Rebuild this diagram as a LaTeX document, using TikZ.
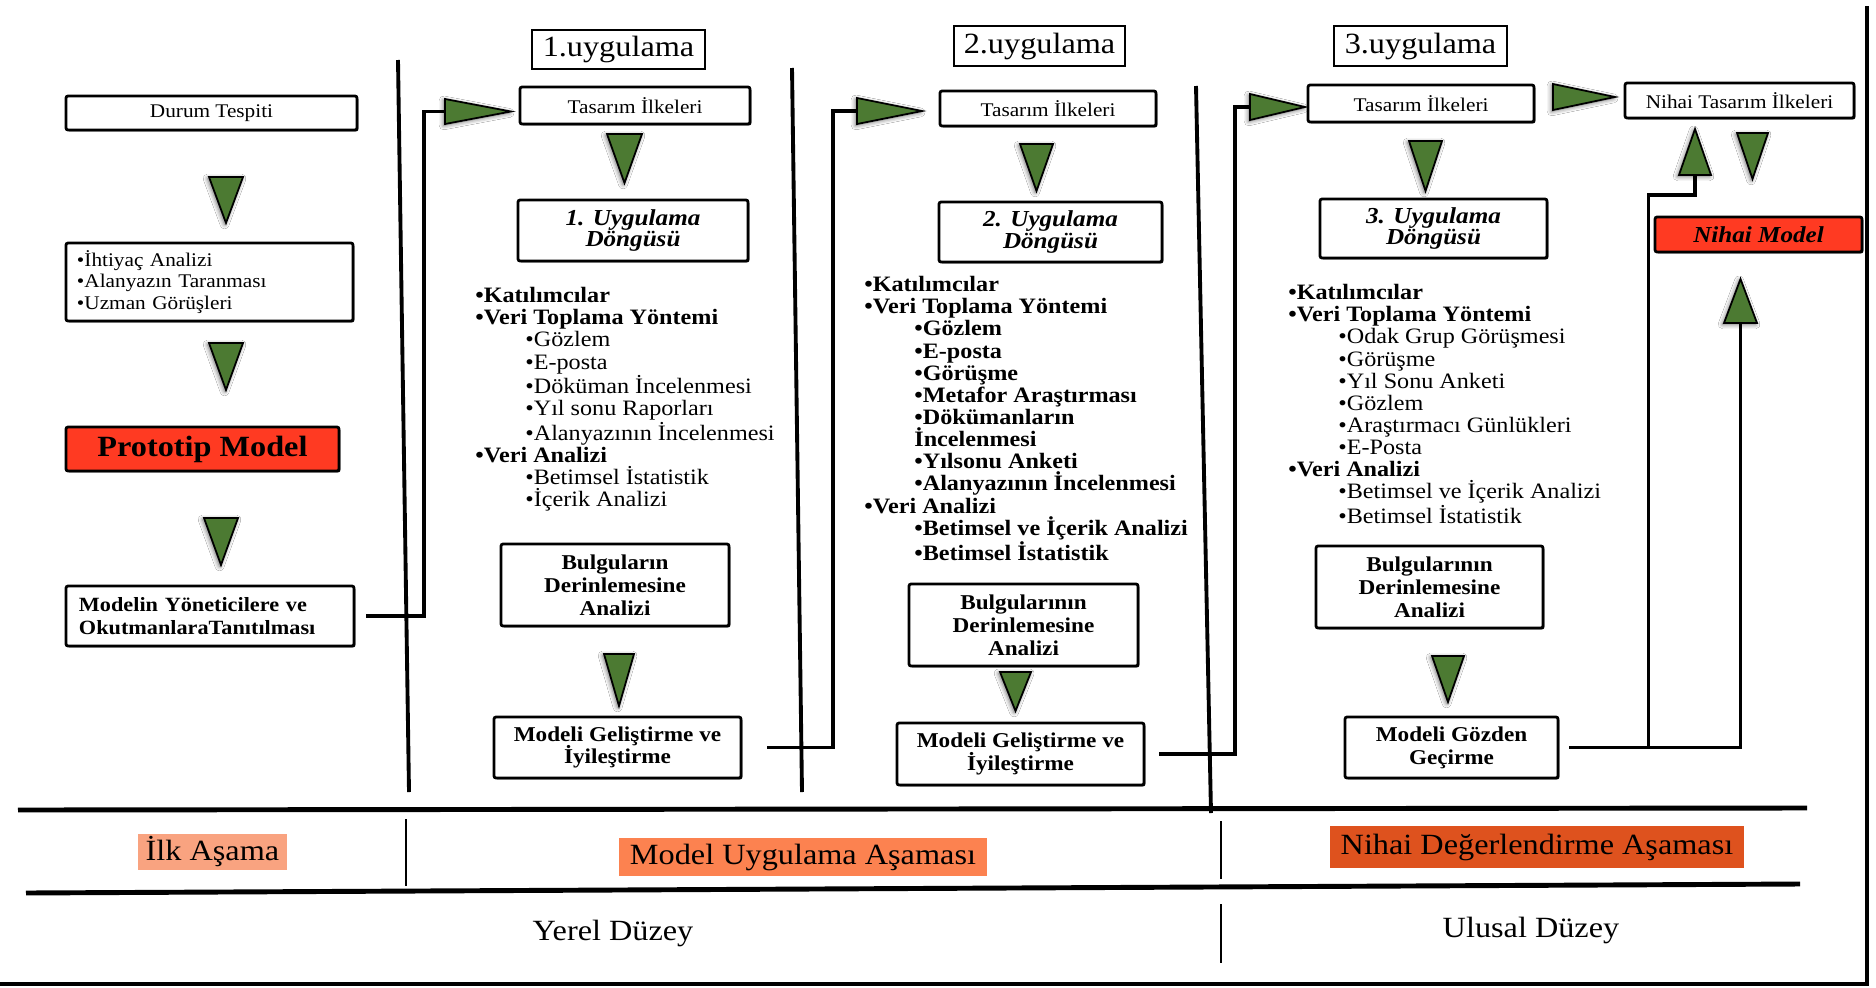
\documentclass[tikz,border=0pt]{standalone}
\usepackage{fontspec}
\setmainfont[FakeStretch=1.1]{Liberation Serif}
\usepackage{tikz}
\usetikzlibrary{positioning,shadows,shadows.blur}

\definecolor{trigreen}{RGB}{76,122,50}
\definecolor{protored}{RGB}{255,58,34}
\definecolor{ilkfill}{RGB}{249,163,128}
\definecolor{uygfill}{RGB}{252,130,80}
\definecolor{nihfill}{RGB}{222,82,30}

\newcommand{\girinti}{\hspace*{10mm}}

\tikzset{
    box/.style={draw, line width=1.6pt, fill=white, rounded corners=1.2pt, inner sep=1pt, align=center,
        drop shadow={shadow xshift=0.8pt, shadow yshift=-0.8pt, opacity=0.85, fill=black}},
    redbox/.style={box, fill=protored},
    header/.style={draw, line width=0.9pt, inner sep=0pt, font=\fontsize{16.7}{18}\selectfont},
    phase/.style={inner sep=0pt, font=\fontsize{16.7}{18}\selectfont},
    liste/.style={anchor=north west, align=left, inner sep=0pt, font=\fontsize{12.5}{12.6}\selectfont},
    smallfont/.style={font=\fontsize{11}{12}\selectfont},
    boldfont/.style={font=\fontsize{12}{13}\selectfont\bfseries},
    cyclefont/.style={font=\fontsize{13}{12.5}\selectfont\bfseries\itshape},
    trifill/.style={fill=trigreen, draw=black, line width=1pt, line join=miter,
        blur shadow={shadow xshift=-0.8pt, shadow yshift=-0.8pt, shadow blur radius=2.5pt, shadow opacity=60}},
    conn/.style={line width=1.8pt, line join=miter},
    divline/.style={line width=2.2pt},
    bandline/.style={line width=2.8pt},
    pics/arrowtri/.style 2 args={code={
        \path[trifill] (0,{-#2/2}) -- (#1,0) -- (0,{#2/2}) -- cycle;
    }}
}

\begin{document}
\begin{tikzpicture}[x=0.2mm, y=-0.2mm, >=stealth]

    % page and frame
    \fill[white] (0,0) rectangle (1876,987);
    \useasboundingbox (0,0) rectangle (1876,987);
    \draw[line width=2pt] (1867,6) -- (1867,984) -- (0,984);

    % column separators
    \draw[divline] (398,60) -- (409,792);
    \draw[divline] (792,68) -- (802,792);
    \draw[divline] (1196,86) -- (1211,813);

    % phase band
    \draw[bandline] (18,810) -- (1807,808);
    \draw[bandline] (26,893) -- (1800,884);
    \draw[line width=1.4pt] (406,819) -- (406,886);
    \draw[line width=1.4pt] (1221,821) -- (1221,879);
    \draw[line width=1.4pt] (1221,904) -- (1221,963);

    \node[phase, fill=ilkfill, minimum width=29.8mm, minimum height=7.2mm] (ilk) at (212.5,852) {İlk Aşama};
    \node[phase, fill=uygfill, minimum width=73.6mm, minimum height=7.6mm] (uyg) at (803,857) {Model Uygulama Aşaması};
    \node[phase, fill=nihfill, minimum width=82.8mm, minimum height=8.4mm] (nih) at (1537,847) {Nihai Değerlendirme Aşaması};
    \node[phase] (yerel) at (613,933) {Yerel Düzey};
    \node[phase] (ulusal) at (1531,930) {Ulusal Düzey};

    % headers
    \node[header, minimum width=34.6mm, minimum height=7.8mm] (h1) at (618.5,49.5) {1.uygulama};
    \node[header, minimum width=34.2mm, minimum height=8mm] (h2) at (1039.5,46) {2.uygulama};
    \node[header, minimum width=34.6mm, minimum height=8mm] (h3) at (1420.5,46) {3.uygulama};

    % first stage
    \node[box, smallfont, minimum width=58.2mm, minimum height=6.8mm] (durum) at (211.5,113) {Durum Tespiti};
    \node[box, smallfont, text width=53mm, align=left, inner xsep=2.2mm, minimum height=15.6mm] (ihtiyac) at (209.5,282)
        {•İhtiyaç Analizi\\•Alanyazın Taranması\\•Uzman Görüşleri};
    \node[redbox, font=\fontsize{16.7}{18}\selectfont\bfseries, minimum width=54.6mm, minimum height=8.8mm] (prototip) at (202.5,449) {Prototip Model};
    \node[box, font=\fontsize{11.5}{13}\selectfont\bfseries, text width=52.4mm, align=left, inner xsep=2.6mm, minimum height=12mm] (modelin) at (210,616)
        {Modelin Yöneticilere ve\\OkutmanlaraTanıtılması};

    % 1. uygulama
    \node[box, smallfont, minimum width=46mm, minimum height=7.4mm] (tas1) at (635,105.5) {Tasarım İlkeleri};
    \node[box, cyclefont, minimum width=46mm, minimum height=12.2mm] (dongu1) at (633,230.5) {1. Uygulama\\Döngüsü};
    \node[liste] (liste1) at (475,287) {%
        \textbf{•Katılımcılar}\\
        \textbf{•Veri Toplama Yöntemi}\\
        \girinti•Gözlem\\
        \girinti•E-posta\\
        \girinti•Döküman İncelenmesi\\
        \girinti•Yıl sonu Raporları\\
        \girinti•Alanyazının İncelenmesi\\
        \textbf{•Veri Analizi}\\
        \girinti•Betimsel İstatistik\\
        \girinti•İçerik Analizi};
    \node[box, boldfont, minimum width=45.6mm, minimum height=16.4mm] (bulgu1) at (615,585) {Bulguların\\Derinlemesine\\Analizi};
    \node[box, boldfont, minimum width=49.4mm, minimum height=12.2mm] (gelis1) at (617.5,747.5) {Modeli Geliştirme ve\\İyileştirme};

    % 2. uygulama
    \node[box, smallfont, minimum width=43.2mm, minimum height=7mm] (tas2) at (1048,108.5) {Tasarım İlkeleri};
    \node[box, cyclefont, minimum width=44.6mm, minimum height=12mm] (dongu2) at (1050.5,232) {2. Uygulama\\Döngüsü};
    \node[liste, font=\fontsize{12.5}{12.6}\selectfont\bfseries] (liste2) at (864,276) {%
        •Katılımcılar\\
        •Veri Toplama Yöntemi\\
        \girinti•Gözlem\\
        \girinti•E-posta\\
        \girinti•Görüşme\\
        \girinti•Metafor Araştırması\\
        \girinti•Dökümanların\\
        \girinti İncelenmesi\\
        \girinti•Yılsonu Anketi\\
        \girinti•Alanyazının İncelenmesi\\
        •Veri Analizi\\
        \girinti•Betimsel ve İçerik Analizi\\
        \girinti•Betimsel İstatistik};
    \node[box, boldfont, minimum width=45.8mm, minimum height=16.4mm] (bulgu2) at (1023.5,625) {Bulgularının\\Derinlemesine\\Analizi};
    \node[box, boldfont, minimum width=49.4mm, minimum height=12.4mm] (gelis2) at (1020.5,754) {Modeli Geliştirme ve\\İyileştirme};

    % 3. uygulama
    \node[box, smallfont, minimum width=45.2mm, minimum height=7.4mm] (tas3) at (1421,103.5) {Tasarım İlkeleri};
    \node[box, cyclefont, minimum width=45.4mm, minimum height=11.8mm] (dongu3) at (1433.5,228.5) {3. Uygulama\\Döngüsü};
    \node[liste] (liste3) at (1288,284) {%
        \textbf{•Katılımcılar}\\
        \textbf{•Veri Toplama Yöntemi}\\
        \girinti•Odak Grup Görüşmesi\\
        \girinti•Görüşme\\
        \girinti•Yıl Sonu Anketi\\
        \girinti•Gözlem\\
        \girinti•Araştırmacı Günlükleri\\
        \girinti•E-Posta\\
        \textbf{•Veri Analizi}\\
        \girinti•Betimsel ve İçerik Analizi\\
        \girinti•Betimsel İstatistik};
    \node[box, boldfont, minimum width=45.4mm, minimum height=16.4mm] (bulgu3) at (1429.5,587) {Bulgularının\\Derinlemesine\\Analizi};
    \node[box, boldfont, minimum width=42.6mm, minimum height=12.2mm] (gozden) at (1451.5,747.5) {Modeli Gözden\\Geçirme};

    % final
    \node[box, smallfont, minimum width=45.8mm, minimum height=7mm] (nihaitas) at (1739.5,100.5) {Nihai Tasarım İlkeleri};
    \node[redbox, cyclefont, minimum width=41.4mm, minimum height=7mm] (nihaimodel) at (1758.5,234.5) {Nihai Model};

    % connectors
    \coordinate (a1) at (445,111.5);
    \coordinate (a2) at (857,111);
    \coordinate (a3) at (1250,107);
    \coordinate (a4) at (1553,97);
    \coordinate (b1) at (1695,175);
    \coordinate (b2) at (1740.5,323);
    \draw[conn] ([xshift=2.2mm]modelin.east) -| ([xshift=-4.2mm]a1) -- (a1);
    \draw[conn] ([xshift=5mm]gelis1.east) -| ([xshift=-4.8mm]a2) -- (a2);
    \draw[conn] ([xshift=2.8mm]gelis2.east) -| ([xshift=-3mm]a3) -- (a3);
    \draw[conn] ([xshift=2mm]gozden.east) -| (b2);
    \draw[conn] ([xshift=17.8mm]gozden.east) |- ([yshift=-4mm]b1) -- (b1);

    % green triangles
    \foreach \x/\y/\l/\w in {226/177/46/34, 226/343/47/34, 221/518/47/34,
        624.5/134/49/35, 619/654/52/30, 1036.5/144/47/33, 1015.5/672/39/31,
        1425.5/141/50/33, 1448/656/46/32, 1752.5/133/46/31}
        \pic[rotate=-90] at (\x,\y) {arrowtri={\l}{\w}};
    \pic at (a1) {arrowtri={66}{25}};
    \pic at (a2) {arrowtri={65}{26}};
    \pic at (a3) {arrowtri={55}{26}};
    \pic at (a4) {arrowtri={62}{26}};
    \pic[rotate=90] at (b1) {arrowtri={46}{32}};
    \pic[rotate=90] at (b2) {arrowtri={44}{33}};

\end{tikzpicture}
\end{document}
